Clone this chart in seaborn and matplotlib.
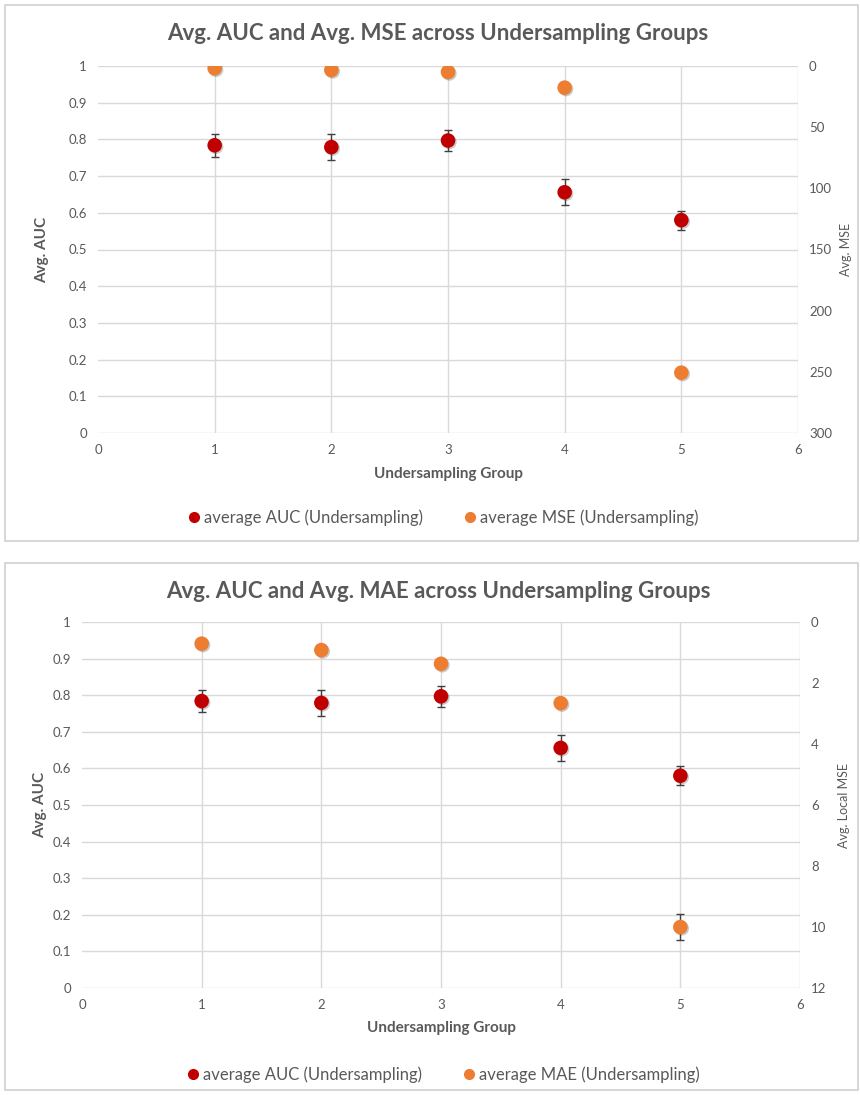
import matplotlib
matplotlib.use("Agg")
import numpy as np
import pandas as pd
import matplotlib.pyplot as plt
import seaborn as sns
from matplotlib.patches import Rectangle
from matplotlib.lines import Line2D
import matplotlib.patheffects as pe

# ---------------- data ----------------
groups = [1, 2, 3, 4, 5]
auc_mean = [0.784, 0.779, 0.797, 0.656, 0.580]
auc_err = [0.031, 0.035, 0.028, 0.036, 0.026]
mse_mean = [1.9, 3.3, 4.9, 17.7, 250.7]
mae_mean = [0.71, 0.92, 1.37, 2.66, 10.0]
mae_err = [0.0, 0.0, 0.0, 0.0, 0.44]

x_ticks = [0, 1, 2, 3, 4, 5, 6]
auc_ticks = [0, 0.1, 0.2, 0.3, 0.4, 0.5, 0.6, 0.7, 0.8, 0.9, 1]
mse_ticks = [0, 50, 100, 150, 200, 250, 300]
mae_ticks = [0, 2, 4, 6, 8, 10, 12]

titles = ["Avg. AUC and Avg. MSE across Undersampling Groups",
          "Avg. AUC and Avg. MAE across Undersampling Groups"]
right_labels = ["Avg. MSE", "Avg. Local MSE"]
legend_labels = [("average AUC (Undersampling)", "average MSE (Undersampling)"),
                 ("average AUC (Undersampling)", "average MAE (Undersampling)")]
x_label = "Undersampling Group"
left_label = "Avg. AUC"

# ---------------- style ----------------
sns.set_theme(style="white")
plt.rcParams['font.family'] = ['Lato', 'DejaVu Sans']

RED = "#C00000"
ORANGE = "#ED7D31"
GREY_TXT = "#595959"
GRID = "#D9D9D9"
ERR = "#404040"

W, H = 860, 1095
fig = plt.figure(figsize=(W / 100, H / 100), dpi=100)


def fx(px):
    return px / W


def fy(py):
    return 1 - py / H


shadow = [pe.SimplePatchShadow(offset=(1, -1), shadow_rgbFace=(0.3, 0.3, 0.3),
                               alpha=0.3), pe.Normal()]


def draw_panel(axes_px, panel_px, title, title_y, right_vals, right_err,
               right_ticks, right_label, leg_labels, leg_y, xlabel_y,
               ylab_x, rlab_x):
    l, t, r, b = panel_px
    fig.patches.append(Rectangle((fx(l), fy(b)), fx(r - l), (b - t) / H,
                                 transform=fig.transFigure, fill=False,
                                 edgecolor="#D0D0D0", linewidth=1.2))
    al, at, ar, ab = axes_px
    ax = fig.add_axes([fx(al), fy(ab), fx(ar - al), (ab - at) / H])
    ax2 = ax.twinx()

    df = pd.DataFrame({"group": groups, "auc": auc_mean, "auc_err": auc_err,
                       "right": right_vals, "right_err": right_err})

    ax.set_xlim(0, 6)
    ax.set_ylim(0, 1)
    ax.set_xticks(x_ticks)
    ax.set_yticks(auc_ticks)
    ax.set_xticklabels([f"{v:g}" for v in x_ticks])
    ax.set_yticklabels([f"{v:g}" for v in auc_ticks])
    ax.grid(True, color=GRID, linewidth=1.0)
    ax.set_axisbelow(True)
    ax.get_xgridlines()[0].set_visible(False)
    for s in ax.spines.values():
        s.set_visible(False)
    for s in ax2.spines.values():
        s.set_visible(False)

    ax.errorbar(df["group"], df["auc"], yerr=df["auc_err"], fmt="none",
                ecolor=ERR, elinewidth=1.0, capsize=3, capthick=1.0, zorder=3)
    sns.scatterplot(data=df, x="group", y="auc", ax=ax, color=RED, s=110,
                    edgecolor="none", zorder=4, legend=False)
    ax.collections[-1].set_path_effects(shadow)

    ax2.set_ylim(right_ticks[-1], right_ticks[0])
    ax2.set_yticks(right_ticks)
    ax2.set_yticklabels([f"{v:g}" for v in right_ticks])
    if any(e > 0 for e in right_err):
        ax2.errorbar(df["group"], df["right"], yerr=df["right_err"], fmt="none",
                     ecolor=ERR, elinewidth=1.0, capsize=3, capthick=1.0,
                     zorder=3)
    sns.scatterplot(data=df, x="group", y="right", ax=ax2, color=ORANGE, s=110,
                    edgecolor="none", zorder=4, legend=False)
    ax2.collections[-1].set_path_effects(shadow)
    ax2.grid(False)

    for a in (ax, ax2):
        a.tick_params(axis="both", length=0, labelsize=9.5, colors=GREY_TXT,
                      pad=8)
    ax.set_xlabel("")
    ax.set_ylabel("")
    ax2.set_ylabel("")

    fig.text(fx(438), fy(title_y), title, ha="center",
             va="center", fontsize=16, fontweight="bold", color=GREY_TXT)
    fig.text(fx((al + ar) / 2), fy(xlabel_y), x_label, ha="center",
             va="center", fontsize=11, fontweight="bold", color=GREY_TXT)
    fig.text(fx(ylab_x), fy((at + ab) / 2), left_label, ha="center",
             va="center", rotation=90, fontsize=11, fontweight="bold",
             color=GREY_TXT)
    fig.text(fx(rlab_x), fy((at + ab) / 2), right_label, ha="center",
             va="center", rotation=90, fontsize=9, color=GREY_TXT)

    handles = [Line2D([], [], marker="o", linestyle="none", color=RED,
                      markersize=7),
               Line2D([], [], marker="o", linestyle="none", color=ORANGE,
                      markersize=7)]
    fig.legend(handles, list(leg_labels), loc="center",
               bbox_to_anchor=(fx(443), fy(leg_y)), ncol=2, frameon=False,
               fontsize=12, labelcolor=GREY_TXT, handletextpad=0.2,
               columnspacing=2.4, handlelength=0.8)


draw_panel((98, 66, 798, 433), (5, 5, 858, 541), titles[0], 34,
           mse_mean, [0, 0, 0, 0, 0], mse_ticks, right_labels[0],
           legend_labels[0], 518, 474, 42, 846)
draw_panel((82, 622, 800, 988), (5, 563, 858, 1090), titles[1], 591,
           mae_mean, mae_err, mae_ticks, right_labels[1],
           legend_labels[1], 1075, 1028, 40, 844)

fig.savefig("out.png", dpi=100)
